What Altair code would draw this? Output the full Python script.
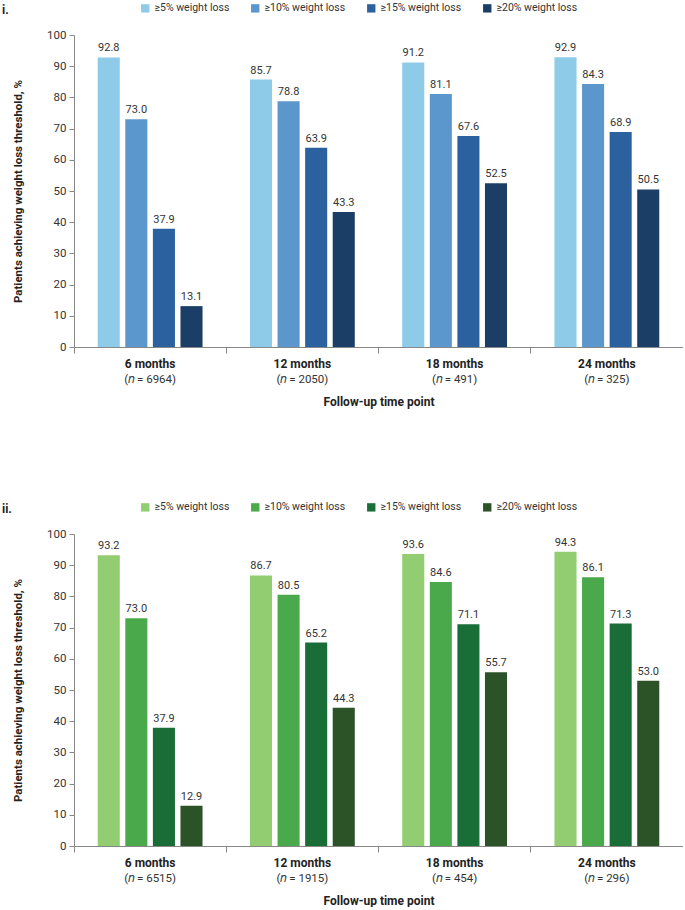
import altair as alt
import pandas as pd

groups = ["6 months", "12 months", "18 months", "24 months"]
thresholds = ["≥5% weight loss", "≥10% weight loss", "≥15% weight loss", "≥20% weight loss"]

n_i = ["(𝑛 =  6964)", "(𝑛 = 2050)", "(𝑛 = 491)", "(𝑛 = 325)"]
n_ii = ["(𝑛 = 6515)", "(𝑛 = 1915)", "(𝑛 = 454)", "(𝑛 = 296)"]

i_5 = [92.8, 85.7, 91.2, 92.9]
i_10 = [73.0, 78.8, 81.1, 84.3]
i_15 = [37.9, 63.9, 67.6, 68.9]
i_20 = [13.1, 43.3, 52.5, 50.5]

ii_5 = [93.2, 86.7, 93.6, 94.3]
ii_10 = [73.0, 80.5, 84.6, 86.1]
ii_15 = [37.9, 65.2, 71.1, 71.3]
ii_20 = [12.9, 44.3, 55.7, 53.0]

ticks_y = [0, 10, 20, 30, 40, 50, 60, 70, 80, 90, 100]

blues = ["#8ecbe8", "#5b96cd", "#2c619f", "#1b3e66"]
greens = ["#93cd71", "#4aa94a", "#196e38", "#2c5328"]

FONT = "Roboto"
W = 609
H = 312


def panel(series, ns, colors, tag):
    rows = []
    for t, vals in zip(thresholds, series):
        for g, v in zip(groups, vals):
            rows.append({"group": g, "threshold": t, "value": v})
    df = pd.DataFrame(rows)
    base = alt.Chart(df)
    x = alt.X(
        "group:N", sort=groups,
        scale=alt.Scale(paddingInner=0, paddingOuter=0),
        axis=alt.Axis(labels=False, title="Follow-up time point", titleFont=FONT,
                      titleFontSize=12, titleFontWeight="bold", titleColor="#222",
                      titlePadding=43, bandPosition=0, tickSize=6,
                      domainColor="#888", tickColor="#888"),
    )
    xo = alt.XOffset("threshold:N", sort=thresholds,
                     scale=alt.Scale(paddingInner=0.2, paddingOuter=0.86))
    y = alt.Y("value:Q", scale=alt.Scale(domain=[0, 100]),
              axis=alt.Axis(values=ticks_y, grid=False, labelOverlap=False,
                            title="Patients achieving weight loss threshold, %",
                            titleFont=FONT, titleFontSize=11.5, titleFontWeight="bold",
                            titleColor="#222", titleX=-51, titleY=H / 2,
                            labelFont=FONT, labelFontSize=11.5, labelColor="#333",
                            labelPadding=3,
                            tickSize=5, domainColor="#888", tickColor="#888"))
    bars = base.mark_bar().encode(
        x=x, xOffset=xo, y=y,
        color=alt.Color("threshold:N", sort=thresholds,
                        scale=alt.Scale(domain=thresholds, range=colors),
                        legend=alt.Legend(title=None, orient="none", legendX=66, legendY=-32,
                                          direction="horizontal", columns=4,
                                          symbolType="square", symbolSize=70,
                                          symbolStrokeWidth=0, columnPadding=20,
                                          labelFont=FONT, labelFontSize=10.5,
                                          labelColor="#333")),
    )
    labels = base.mark_text(dy=-9, font=FONT, fontSize=11, color="#333").encode(
        x=x, xOffset=xo, y=y, text=alt.Text("value:Q", format=".1f"))
    gdf = pd.DataFrame({"group": groups, "n": ns})
    gbase = alt.Chart(gdf)
    gx = alt.X("group:N", sort=groups)
    l1 = gbase.mark_text(font=FONT, fontSize=12, fontWeight="bold", color="#222").encode(
        x=gx, y=alt.value(H + 17), text="group:N")
    l2 = gbase.mark_text(font=FONT, fontSize=11.5, color="#333").encode(
        x=gx, y=alt.value(H + 33), text="n:N")
    tdf = pd.DataFrame({"tag": [tag]})
    t = alt.Chart(tdf).mark_text(font=FONT, fontSize=12, fontWeight="bold", align="left",
                                 baseline="middle", color="#222").encode(
        x=alt.value(-72), y=alt.value(-25), text="tag:N")
    return alt.layer(bars, labels, l1, l2, t).properties(width=W, height=H)


p1 = panel([i_5, i_10, i_15, i_20], n_i, blues, "i.")
p2 = panel([ii_5, ii_10, ii_15, ii_20], n_ii, greens, "ii.")

chart = alt.vconcat(p1, p2, spacing=94).resolve_scale(color="independent").properties(
    padding={"left": 2, "top": 3, "right": 0, "bottom": 0}
).configure_view(stroke=None)

chart.save("out.html", embed_options={"renderer": "svg", "actions": False})
